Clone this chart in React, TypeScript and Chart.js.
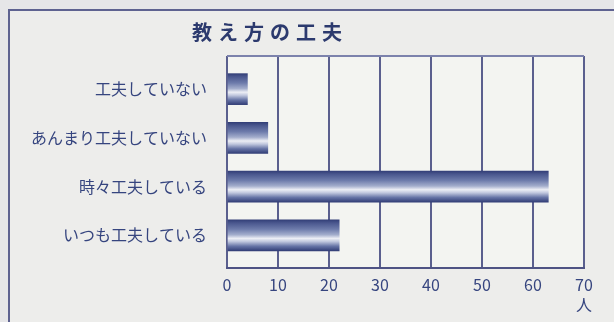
import React, { useEffect, useRef } from "react";
import { Chart, registerables } from "chart.js";

Chart.register(...registerables);

const categories = ["工夫していない", "あんまり工夫していない", "時々工夫している", "いつも工夫している"];
const values = [4, 8, 63, 22];
const xTicks = [0, 10, 20, 30, 40, 50, 60, 70];
const title = "教え方の工夫";
const unit = "人";

const FONT = "'Noto Sans CJK JP', 'Noto Sans', sans-serif";
const TEXT = "#36457f";

const framePlugin = {
  id: "framePlugin",
  beforeDraw(chart: any) {
    const { ctx, chartArea: a, width, height } = chart;
    ctx.save();
    ctx.fillStyle = "#e6e6e8";
    ctx.fillRect(0, 0, width, height);
    ctx.fillStyle = "#ededeb";
    ctx.fillRect(10, 11, width, height);
    ctx.strokeStyle = "#5e6290";
    ctx.lineWidth = 2;
    ctx.beginPath();
    ctx.moveTo(9, height + 5);
    ctx.lineTo(9, 10);
    ctx.lineTo(width + 5, 10);
    ctx.stroke();
    ctx.fillStyle = "#f3f4f1";
    ctx.fillRect(a.left, a.top, a.right - a.left, a.bottom - a.top);
    ctx.fillStyle = "#2c3a6e";
    ctx.font = `bold 20px ${FONT}`;
    ctx.textAlign = "center";
    ctx.textBaseline = "middle";
    (ctx as any).letterSpacing = "6px";
    ctx.fillText(title, 270, 32);
    ctx.restore();
  },
  afterDraw(chart: any) {
    const { ctx, chartArea: a } = chart;
    ctx.save();
    ctx.strokeStyle = "#7c82ac";
    ctx.lineWidth = 2;
    ctx.beginPath();
    ctx.moveTo(a.left, a.top);
    ctx.lineTo(a.right, a.top);
    ctx.stroke();
    ctx.fillStyle = TEXT;
    ctx.font = `16px ${FONT}`;
    ctx.textAlign = "center";
    ctx.textBaseline = "middle";
    ctx.fillText(unit, chart.scales.x.getPixelForValue(70), 305);
    ctx.restore();
  },
};

export default function App() {
  const ref = useRef<HTMLCanvasElement>(null);
  useEffect(() => {
    const canvas = ref.current!;
    const chart = new Chart(canvas, {
      type: "bar",
      data: {
        datasets: [
          {
            data: values.map((v, i) => ({ x: v, y: i })),
            barThickness: 31,
            borderWidth: 0,
            backgroundColor: (c: any) => {
              const ch = c.chart;
              const ys = ch.scales && ch.scales.y;
              if (!ys || c.dataIndex === undefined) return "#4a5890";
              const cy = ys.getPixelForValue(c.dataIndex);
              if (!isFinite(cy)) return "#4a5890";
              const g = ch.ctx.createLinearGradient(0, cy - 15.5, 0, cy + 15.5);
              g.addColorStop(0, "#333f78");
              g.addColorStop(0.1, "#4a578e");
              g.addColorStop(0.3, "#6d7bab");
              g.addColorStop(0.48, "#a3adcc");
              g.addColorStop(0.6, "#eceef5");
              g.addColorStop(0.7, "#c0c7de");
              g.addColorStop(0.85, "#6674a6");
              g.addColorStop(1, "#323e77");
              return g;
            },
          },
        ],
      },
      options: {
        indexAxis: "y",
        responsive: false,
        animation: false,
        devicePixelRatio: 1,
        layout: { padding: { top: 56, right: 30, left: 0, bottom: 0 } },
        plugins: { legend: { display: false }, tooltip: { enabled: false }, title: { display: false } },
        scales: {
          x: {
            type: "linear",
            min: 0,
            max: 70,
            afterBuildTicks: (s: any) => {
              s.ticks = xTicks.map((v) => ({ value: v }));
            },
            afterFit: (s: any) => {
              s.height = 54;
            },
            grid: { color: "#5a5f8e", lineWidth: 2, drawTicks: false },
            border: { display: true, color: "#4e5384", width: 2 },
            ticks: { color: TEXT, font: { family: FONT, size: 16 }, padding: 7, maxRotation: 0 },
          },
          y: {
            type: "linear",
            offset: false,
            bounds: "data",
            min: -0.68,
            max: 3.67,
            reverse: true,
            afterBuildTicks: (s: any) => {
              s.ticks = categories.map((_, i) => ({ value: i }));
            },
            afterFit: (s: any) => {
              s.width = 227;
            },
            grid: { display: false, offset: false, drawTicks: false },
            border: { display: false },
            ticks: {
              color: TEXT,
              font: { family: FONT, size: 16 },
              padding: 20,
              callback: (v: any) => categories[v as number],
            },
          },
        },
      },
      plugins: [framePlugin],
    } as any);
    return () => chart.destroy();
  }, []);
  return (
    <div style={{ position: "absolute", left: 0, top: 0, width: 614, height: 322 }}>
      <canvas ref={ref} width={614} height={322} />
    </div>
  );
}
